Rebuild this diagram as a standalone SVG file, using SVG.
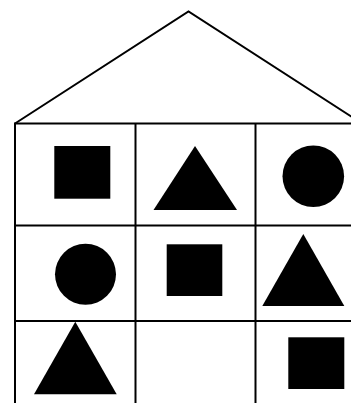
<svg xmlns="http://www.w3.org/2000/svg" width="351" height="403" viewBox="0 0 351 403">
<style>
.ln{fill:none;stroke:#000;stroke-width:2}
.sh{fill:#000;stroke:none}
</style>
<rect width="351" height="403" fill="#fff"/>
<g id="house" class="ln">
<polyline points="15,123.5 188.5,11.5 362,123.5"/>
<line x1="14" y1="123.5" x2="375" y2="123.5"/>
<line x1="14" y1="225.5" x2="375" y2="225.5"/>
<line x1="14" y1="321" x2="375" y2="321"/>
<line x1="15" y1="123" x2="15" y2="403"/>
<line x1="135.5" y1="123" x2="135.5" y2="403"/>
<line x1="255.5" y1="123" x2="255.5" y2="403"/>
</g>
<g id="shapes" class="sh">
<rect id="sq1" x="54.3" y="146" width="56" height="52.7"/>
<polygon id="tri1" points="153.5,210 195,146 237,210"/>
<circle id="c1" cx="313.3" cy="176.3" r="30.8"/>
<circle id="c2" cx="85.5" cy="274.3" r="30.5"/>
<rect id="sq2" x="166.7" y="244.3" width="55.6" height="51.7"/>
<polygon id="tri2" points="262.3,306 303.3,234 344.3,306"/>
<polygon id="tri3" points="34,394.3 75.3,321.7 116.7,394.3"/>
<rect id="sq3" x="288.3" y="337.3" width="56" height="51.7"/>
</g>
</svg>
